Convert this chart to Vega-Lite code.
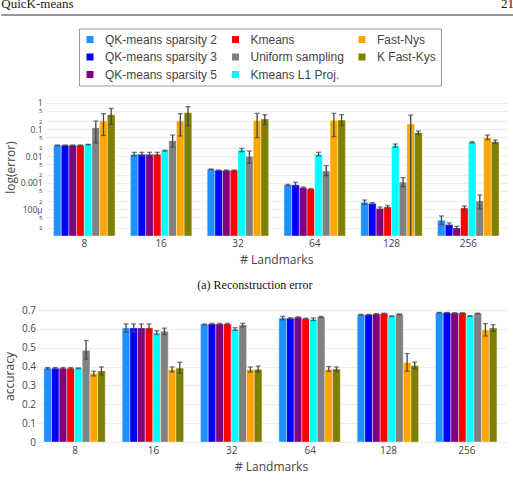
{
  "$schema": "https://vega.github.io/schema/vega-lite/v6.json",
  "padding": {"left": 0, "right": 0, "top": -3, "bottom": 5},
  "background": "white",
  "config": {
    "view": {"stroke": null},
    "axis": {"labelFont": "Open Sans", "labelFontSize": 10, "labelColor": "#444", "titleFont": "Open Sans", "titleFontSize": 12, "titleFontWeight": "normal", "titleColor": "#444", "domain": false, "ticks": false, "gridColor": "#eee", "labelOverlap": false}
  },
  "datasets": {
    "d": [
      {"k": "8", "m": "QK-means sparsity 2", "e": 0.0252, "e_lo": 0.0245, "e_hi": 0.026, "a": 0.391, "a_lo": 0.387, "a_hi": 0.395},
      {"k": "8", "m": "QK-means sparsity 3", "e": 0.0252, "e_lo": 0.0245, "e_hi": 0.026, "a": 0.391, "a_lo": 0.387, "a_hi": 0.395},
      {"k": "8", "m": "QK-means sparsity 5", "e": 0.0252, "e_lo": 0.0245, "e_hi": 0.026, "a": 0.391, "a_lo": 0.387, "a_hi": 0.395},
      {"k": "8", "m": "Kmeans", "e": 0.0252, "e_lo": 0.0245, "e_hi": 0.026, "a": 0.391, "a_lo": 0.387, "a_hi": 0.395},
      {"k": "8", "m": "Kmeans L1 Proj.", "e": 0.0267, "e_lo": 0.026, "e_hi": 0.0274, "a": 0.391, "a_lo": 0.389, "a_hi": 0.393},
      {"k": "8", "m": "Uniform sampling", "e": 0.116, "e_lo": 0.031, "e_hi": 0.205, "a": 0.486, "a_lo": 0.44, "a_hi": 0.538},
      {"k": "8", "m": "Fast-Nys", "e": 0.211, "e_lo": 0.059, "e_hi": 0.387, "a": 0.363, "a_lo": 0.35, "a_hi": 0.375},
      {"k": "8", "m": "K Fast-Kys", "e": 0.355, "e_lo": 0.154, "e_hi": 0.611, "a": 0.377, "a_lo": 0.355, "a_hi": 0.398},
      {"k": "16", "m": "QK-means sparsity 2", "e": 0.0116, "e_lo": 0.01, "e_hi": 0.0138, "a": 0.605, "a_lo": 0.582, "a_hi": 0.626},
      {"k": "16", "m": "QK-means sparsity 3", "e": 0.0116, "e_lo": 0.01, "e_hi": 0.0138, "a": 0.605, "a_lo": 0.582, "a_hi": 0.626},
      {"k": "16", "m": "QK-means sparsity 5", "e": 0.0116, "e_lo": 0.01, "e_hi": 0.0138, "a": 0.605, "a_lo": 0.582, "a_hi": 0.626},
      {"k": "16", "m": "Kmeans", "e": 0.0116, "e_lo": 0.01, "e_hi": 0.0138, "a": 0.605, "a_lo": 0.582, "a_hi": 0.626},
      {"k": "16", "m": "Kmeans L1 Proj.", "e": 0.0159, "e_lo": 0.0152, "e_hi": 0.0166, "a": 0.58, "a_lo": 0.57, "a_hi": 0.59},
      {"k": "16", "m": "Uniform sampling", "e": 0.0377, "e_lo": 0.0219, "e_hi": 0.0612, "a": 0.587, "a_lo": 0.57, "a_hi": 0.604},
      {"k": "16", "m": "Fast-Nys", "e": 0.211, "e_lo": 0.056, "e_hi": 0.387, "a": 0.384, "a_lo": 0.371, "a_hi": 0.398},
      {"k": "16", "m": "K Fast-Kys", "e": 0.422, "e_lo": 0.138, "e_hi": 0.708, "a": 0.392, "a_lo": 0.364, "a_hi": 0.423},
      {"k": "32", "m": "QK-means sparsity 2", "e": 0.00318, "e_lo": 0.0031, "e_hi": 0.00326, "a": 0.624, "a_lo": 0.622, "a_hi": 0.626},
      {"k": "32", "m": "QK-means sparsity 3", "e": 0.00291, "e_lo": 0.00283, "e_hi": 0.003, "a": 0.626, "a_lo": 0.623, "a_hi": 0.629},
      {"k": "32", "m": "QK-means sparsity 5", "e": 0.00291, "e_lo": 0.00283, "e_hi": 0.003, "a": 0.626, "a_lo": 0.623, "a_hi": 0.629},
      {"k": "32", "m": "Kmeans", "e": 0.00291, "e_lo": 0.00283, "e_hi": 0.003, "a": 0.626, "a_lo": 0.623, "a_hi": 0.629},
      {"k": "32", "m": "Kmeans L1 Proj.", "e": 0.0168, "e_lo": 0.0146, "e_hi": 0.0194, "a": 0.599, "a_lo": 0.592, "a_hi": 0.606},
      {"k": "32", "m": "Uniform sampling", "e": 0.00975, "e_lo": 0.00533, "e_hi": 0.0154, "a": 0.62, "a_lo": 0.611, "a_hi": 0.629},
      {"k": "32", "m": "Fast-Nys", "e": 0.217, "e_lo": 0.049, "e_hi": 0.398, "a": 0.384, "a_lo": 0.371, "a_hi": 0.398},
      {"k": "32", "m": "K Fast-Kys", "e": 0.244, "e_lo": 0.15, "e_hi": 0.355, "a": 0.385, "a_lo": 0.371, "a_hi": 0.403},
      {"k": "64", "m": "QK-means sparsity 2", "e": 0.00082, "e_lo": 0.00078, "e_hi": 0.00086, "a": 0.657, "a_lo": 0.648, "a_hi": 0.666},
      {"k": "64", "m": "QK-means sparsity 3", "e": 0.00083, "e_lo": 0.00069, "e_hi": 0.00104, "a": 0.656, "a_lo": 0.653, "a_hi": 0.659},
      {"k": "64", "m": "QK-means sparsity 5", "e": 0.00065, "e_lo": 0.00061, "e_hi": 0.00069, "a": 0.661, "a_lo": 0.658, "a_hi": 0.664},
      {"k": "64", "m": "Kmeans", "e": 0.00058, "e_lo": 0.00055, "e_hi": 0.00061, "a": 0.654, "a_lo": 0.651, "a_hi": 0.657},
      {"k": "64", "m": "Kmeans L1 Proj.", "e": 0.0116, "e_lo": 0.01, "e_hi": 0.0138, "a": 0.651, "a_lo": 0.644, "a_hi": 0.658},
      {"k": "64", "m": "Uniform sampling", "e": 0.00275, "e_lo": 0.00184, "e_hi": 0.00436, "a": 0.663, "a_lo": 0.66, "a_hi": 0.666},
      {"k": "64", "m": "Fast-Nys", "e": 0.217, "e_lo": 0.0535, "e_hi": 0.398, "a": 0.385, "a_lo": 0.375, "a_hi": 0.4},
      {"k": "64", "m": "K Fast-Kys", "e": 0.224, "e_lo": 0.138, "e_hi": 0.355, "a": 0.387, "a_lo": 0.375, "a_hi": 0.398},
      {"k": "128", "m": "QK-means sparsity 2", "e": 0.000184, "e_lo": 0.000155, "e_hi": 0.000223, "a": 0.675, "a_lo": 0.673, "a_hi": 0.677},
      {"k": "128", "m": "QK-means sparsity 3", "e": 0.000166, "e_lo": 0.000155, "e_hi": 0.000178, "a": 0.675, "a_lo": 0.673, "a_hi": 0.677},
      {"k": "128", "m": "QK-means sparsity 5", "e": 0.000108, "e_lo": 0.000095, "e_hi": 0.000123, "a": 0.679, "a_lo": 0.677, "a_hi": 0.681},
      {"k": "128", "m": "Kmeans", "e": 0.000123, "e_lo": 0.00011, "e_hi": 0.000139, "a": 0.681, "a_lo": 0.679, "a_hi": 0.683},
      {"k": "128", "m": "Kmeans L1 Proj.", "e": 0.0244, "e_lo": 0.0212, "e_hi": 0.0282, "a": 0.667, "a_lo": 0.665, "a_hi": 0.669},
      {"k": "128", "m": "Uniform sampling", "e": 0.00104, "e_lo": 0.00071, "e_hi": 0.00155, "a": 0.677, "a_lo": 0.675, "a_hi": 0.679},
      {"k": "128", "m": "Fast-Nys", "e": 0.158, "e_lo": 0.000001, "e_hi": 0.344, "a": 0.421, "a_lo": 0.375, "a_hi": 0.469},
      {"k": "128", "m": "K Fast-Kys", "e": 0.075, "e_lo": 0.0668, "e_hi": 0.0866, "a": 0.405, "a_lo": 0.387, "a_hi": 0.424},
      {"k": "256", "m": "QK-means sparsity 2", "e": 0.000039, "e_lo": 0.0000269, "e_hi": 0.0000566, "a": 0.686, "a_lo": 0.685, "a_hi": 0.687},
      {"k": "256", "m": "QK-means sparsity 3", "e": 0.0000269, "e_lo": 0.000024, "e_hi": 0.000031, "a": 0.686, "a_lo": 0.685, "a_hi": 0.687},
      {"k": "256", "m": "QK-means sparsity 5", "e": 0.00002, "e_lo": 0.0000185, "e_hi": 0.0000233, "a": 0.684, "a_lo": 0.683, "a_hi": 0.685},
      {"k": "256", "m": "Kmeans", "e": 0.000113, "e_lo": 0.000098, "e_hi": 0.000134, "a": 0.684, "a_lo": 0.683, "a_hi": 0.685},
      {"k": "256", "m": "Kmeans L1 Proj.", "e": 0.0326, "e_lo": 0.031, "e_hi": 0.0342, "a": 0.668, "a_lo": 0.667, "a_hi": 0.669},
      {"k": "256", "m": "Uniform sampling", "e": 0.000207, "e_lo": 0.000104, "e_hi": 0.000347, "a": 0.682, "a_lo": 0.681, "a_hi": 0.683},
      {"k": "256", "m": "Fast-Nys", "e": 0.05, "e_lo": 0.041, "e_hi": 0.0612, "a": 0.594, "a_lo": 0.562, "a_hi": 0.628},
      {"k": "256", "m": "K Fast-Kys", "e": 0.0346, "e_lo": 0.03, "e_hi": 0.04, "a": 0.605, "a_lo": 0.587, "a_hi": 0.622}
    ]
  },
  "vconcat": [
    {
      "width": 478,
      "height": 15,
      "data": {"values": [{"t": "QuicK-means", "p": 0, "p2": 1, "q": 0.47, "r": 0}, {"t": "21", "p": 1, "p2": 1, "q": 0.47, "r": 0}]},
      "encoding": {
        "x": {"field": "p", "type": "quantitative", "scale": {"domain": [0.0676, 1], "nice": false, "zero": false}, "axis": null},
        "y": {"field": "q", "type": "quantitative", "scale": {"domain": [0, 1], "nice": false}, "axis": null}
      },
      "layer": [
        {
          "transform": [{"filter": "datum.t == 'QuicK-means'"}],
          "mark": {"type": "text", "align": "left", "baseline": "alphabetic", "font": "Liberation Serif", "fontSize": 13, "color": "#222"},
          "encoding": {"text": {"field": "t"}}
        },
        {
          "transform": [{"filter": "datum.t == '21'"}],
          "mark": {"type": "text", "align": "right", "baseline": "alphabetic", "font": "Liberation Serif", "fontSize": 13, "color": "#222"},
          "encoding": {"text": {"field": "t"}}
        },
        {
          "transform": [{"filter": "datum.t == 'QuicK-means'"}],
          "mark": {"type": "rule", "color": "#333", "strokeWidth": 1},
          "encoding": {"x": {"field": "r", "type": "quantitative"}, "x2": {"field": "p2"}, "y": {"field": "r", "type": "quantitative"}}
        }
      ]
    },
    {
      "concat": [
        {
          "width": 471,
          "height": 138,
          "data": {"name": "d"},
          "encoding": {
            "x": {"field": "k", "type": "nominal", "scale": {"domain": ["8", "16", "32", "64", "128", "256"], "range": [9.9, 470.7], "paddingInner": 0.2, "paddingOuter": 0.1}, "axis": {"title": "# Landmarks", "labelAngle": 0, "labelPadding": 2, "titlePadding": 6, "grid": false}},
            "xOffset": {"field": "m", "type": "nominal", "scale": {"domain": ["QK-means sparsity 2", "QK-means sparsity 3", "QK-means sparsity 5", "Kmeans", "Kmeans L1 Proj.", "Uniform sampling", "Fast-Nys", "K Fast-Kys"], "paddingInner": 0}}
          },
          "layer": [
            {
              "mark": {"type": "bar", "stroke": "white", "strokeWidth": 0.4},
              "encoding": {
                "y": {"field": "e", "type": "quantitative", "title": "log(error)", "scale": {"type": "log", "domain": [0.00001, 1.5], "nice": false},
                  "axis": {"title": "log(error)", "titlePadding": 3, "labelPadding": 2, "offset": -8, "grid": true, "labelOverlap": false,
                    "values": [0.00002, 0.00005, 0.0001, 0.0002, 0.0005, 0.001, 0.002, 0.005, 0.01, 0.02, 0.05, 0.1, 0.2, 0.5, 1],
                    "labelExpr": "abs(log(datum.value)/LN10 - round(log(datum.value)/LN10)) > 0.01 ? toString(round(datum.value / pow(10, floor(log(datum.value)/LN10 + 0.000001)))) : (datum.value < 0.0005 ? '100µ' : format(datum.value, '~g'))",
                    "labelFontSize": {"condition": {"test": "abs(log(datum.value)/LN10 - round(log(datum.value)/LN10)) > 0.01", "value": 6}, "value": 8.5}
                  }},
                "y2": {"datum": 0.00001},
                "color": {"field": "m", "type": "nominal",
                  "scale": {"domain": ["QK-means sparsity 2", "Kmeans", "Fast-Nys", "QK-means sparsity 3", "Uniform sampling", "K Fast-Kys", "QK-means sparsity 5", "Kmeans L1 Proj."], "range": ["#1E90FF", "#FF0000", "#FFA500", "#0000FF", "#808080", "#808000", "#800080", "#00FFFF"]},
                  "legend": {"orient": "none", "legendX": 43, "legendY": 28.5, "direction": "horizontal", "columns": 3, "gridAlign": "each", "title": null, "symbolType": "square", "symbolSize": 49, "symbolStrokeWidth": 0, "labelFont": "Liberation Sans", "labelFontSize": 12, "labelColor": "#444", "labelOffset": 9, "rowPadding": 5.5, "columnPadding": 11.5, "padding": 5, "strokeColor": "#999", "fillColor": "white", "labelLimit": 300}}
              }
            },
            {
              "mark": {"type": "rule", "clip": true, "color": "#444", "strokeWidth": 1.3},
              "encoding": {"y": {"field": "e_lo", "type": "quantitative", "title": "log(error)"}, "y2": {"field": "e_hi"}}
            },
            {
              "mark": {"type": "tick", "clip": true, "color": "#444", "thickness": 1.3, "size": 5},
              "encoding": {"y": {"field": "e_lo", "type": "quantitative", "title": "log(error)"}}
            },
            {
              "mark": {"type": "tick", "clip": true, "color": "#444", "thickness": 1.3, "size": 5},
              "encoding": {"y": {"field": "e_hi", "type": "quantitative", "title": "log(error)"}}
            }
          ]
        },
        {
          "width": 470,
          "height": 132,
          "data": {"name": "d"},
          "title": {"text": "(a) Reconstruction error", "font": "Liberation Serif", "fontSize": 12, "fontWeight": "normal", "color": "#111", "anchor": "middle", "frame": "bounds", "offset": 13.5},
          "encoding": {
            "x": {"field": "k", "type": "nominal", "scale": {"domain": ["8", "16", "32", "64", "128", "256"], "paddingInner": 0.2, "paddingOuter": 0.1}, "axis": {"title": "# Landmarks", "labelAngle": 0, "labelPadding": 3, "titlePadding": 6, "grid": false}},
            "xOffset": {"field": "m", "type": "nominal", "scale": {"domain": ["QK-means sparsity 2", "QK-means sparsity 3", "QK-means sparsity 5", "Kmeans", "Kmeans L1 Proj.", "Uniform sampling", "Fast-Nys", "K Fast-Kys"], "paddingInner": 0}}
          },
          "layer": [
            {
              "mark": {"type": "bar", "stroke": "white", "strokeWidth": 0.4},
              "encoding": {
                "y": {"field": "a", "type": "quantitative", "title": "accuracy", "scale": {"domain": [0, 0.7], "nice": false},
                  "axis": {"title": "accuracy", "titlePadding": 4.6, "labelPadding": 0.5, "grid": true, "labelOverlap": false, "values": [0, 0.1, 0.2, 0.3, 0.4, 0.5, 0.6, 0.7], "format": ".1~f"}},
                "color": {"field": "m", "type": "nominal",
                  "scale": {"domain": ["QK-means sparsity 2", "Kmeans", "Fast-Nys", "QK-means sparsity 3", "Uniform sampling", "K Fast-Kys", "QK-means sparsity 5", "Kmeans L1 Proj."], "range": ["#1E90FF", "#FF0000", "#FFA500", "#0000FF", "#808080", "#808000", "#800080", "#00FFFF"]},
                  "legend": {"orient": "none", "legendX": 43, "legendY": 28.5, "direction": "horizontal", "columns": 3, "gridAlign": "each", "title": null, "symbolType": "square", "symbolSize": 49, "symbolStrokeWidth": 0, "labelFont": "Liberation Sans", "labelFontSize": 12, "labelColor": "#444", "labelOffset": 9, "rowPadding": 5.5, "columnPadding": 11.5, "padding": 5, "strokeColor": "#999", "fillColor": "white", "labelLimit": 300}}
              }
            },
            {
              "mark": {"type": "rule", "clip": true, "color": "#444", "strokeWidth": 1.3},
              "encoding": {"y": {"field": "a_lo", "type": "quantitative", "title": "accuracy", "axis": {"title": "accuracy", "titlePadding": 4.6, "labelPadding": 0.5, "grid": true, "labelOverlap": false, "values": [0, 0.1, 0.2, 0.3, 0.4, 0.5, 0.6, 0.7], "format": ".1~f"}}, "y2": {"field": "a_hi"}}
            },
            {
              "mark": {"type": "tick", "clip": true, "color": "#444", "thickness": 1.3, "size": 5},
              "encoding": {"y": {"field": "a_lo", "type": "quantitative", "title": "accuracy", "axis": {"title": "accuracy", "titlePadding": 4.6, "labelPadding": 0.5, "grid": true, "labelOverlap": false, "values": [0, 0.1, 0.2, 0.3, 0.4, 0.5, 0.6, 0.7], "format": ".1~f"}}}
            },
            {
              "mark": {"type": "tick", "clip": true, "color": "#444", "thickness": 1.3, "size": 5},
              "encoding": {"y": {"field": "a_hi", "type": "quantitative", "title": "accuracy", "axis": {"title": "accuracy", "titlePadding": 4.6, "labelPadding": 0.5, "grid": true, "labelOverlap": false, "values": [0, 0.1, 0.2, 0.3, 0.4, 0.5, 0.6, 0.7], "format": ".1~f"}}}
            }
          ]
        }
      ],
      "columns": 1,
      "align": "none",
      "spacing": 13
    }
  ],
  "spacing": 82
}
